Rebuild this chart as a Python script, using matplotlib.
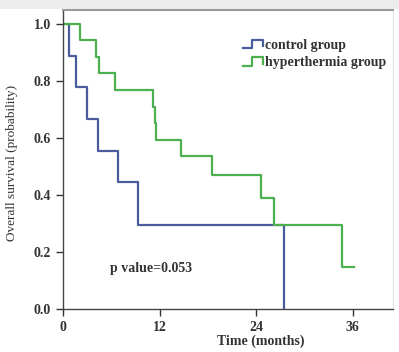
import matplotlib.pyplot as plt
from matplotlib.patches import Rectangle
from matplotlib.legend_handler import HandlerBase
from matplotlib.lines import Line2D

# Kaplan-Meier step data (months, survival probability)
control_t = [0, 0.7, 1.6, 3.0, 4.4, 6.8, 9.3, 27.5]
control_s = [1.0, 0.889, 0.778, 0.667, 0.556, 0.444, 0.296, 0.0]

hyper_t = [0, 2.1, 4.1, 4.5, 6.4, 11.2, 11.4, 11.6, 14.7, 18.5, 24.6, 26.2, 34.7, 36.1]
hyper_s = [1.0, 0.944, 0.885, 0.829, 0.768, 0.709, 0.653, 0.593, 0.537, 0.470, 0.390, 0.296, 0.148, 0.148]

xticks = [0, 12, 24, 36]
yticks = [0.0, 0.2, 0.4, 0.6, 0.8, 1.0]


class StepHandler(HandlerBase):
    # little "_|‾|" step icon like SPSS legends
    def create_artists(self, legend, orig_handle, xdescent, ydescent,
                       width, height, fontsize, trans):
        xs = [0, 0.45 * width, 0.45 * width, width, width]
        ys = [0.15 * height, 0.15 * height, 0.85 * height, 0.85 * height, 0.3 * height]
        ln = Line2D([x - xdescent for x in xs], [y - ydescent for y in ys],
                    color=orig_handle.get_color(), lw=orig_handle.get_linewidth(),
                    transform=trans)
        return [ln]


plt.rcParams['font.family'] = ['Liberation Serif', 'DejaVu Serif']

fig = plt.figure(figsize=(3.99, 3.52), dpi=100)
# light grey strip along the top of the screenshot
fig.patches.append(Rectangle((0, 0.975), 1, 0.025, transform=fig.transFigure,
                             facecolor='#ececec', edgecolor='none', zorder=0))

ax = fig.add_axes([63/399, 1 - 309/352, (393-63)/399, (309-10)/352])

blue = '#4a5c9e'
green = '#4caf50'
l1, = ax.step(control_t, control_s, where='post', color=blue, lw=1.6, label='control group')
l2, = ax.step(hyper_t, hyper_s, where='post', color=green, lw=1.6, label='hyperthermia group')

ax.set_xlim(0, 41)
ax.set_ylim(0, 1.049)
ax.set_xticks(xticks)
ax.set_yticks(yticks)
ax.set_yticklabels([f'{v:.1f}' for v in yticks])
ax.tick_params(direction='out', length=5, width=1, labelsize=10, colors='#333333')
for lab in ax.get_xticklabels() + ax.get_yticklabels():
    lab.set_fontweight('bold')

for s in ['left', 'bottom']:
    ax.spines[s].set_color('#444444')
    ax.spines[s].set_linewidth(1.0)
ax.spines['top'].set_color('#999999')
ax.spines['top'].set_linewidth(1.5)
ax.spines['right'].set_color('#e4e4e4')

ax.set_xlabel('Time (months)', fontsize=10, fontweight='bold', color='#333333')
ax.xaxis.set_label_coords((261-63)/330, -0.085)
ax.set_ylabel('Overall survival (probability)', fontsize=9.5, color='#333333')
ax.yaxis.set_label_coords(-(63-18)/330, 0.49)

ax.text(5.8, 0.13, 'p value=0.053', fontsize=10, fontweight='bold', color='#333333')

leg = ax.legend(handles=[l1, l2], loc='upper left', bbox_to_anchor=(0.53, 0.925),
                frameon=False, fontsize=10, handlelength=1.4, handleheight=0.9,
                handletextpad=0.15, labelspacing=0.3, borderaxespad=0,
                handler_map={Line2D: StepHandler()})
for t in leg.get_texts():
    t.set_fontweight('bold')
    t.set_color('#333333')

fig.savefig('out.png', dpi=100)
